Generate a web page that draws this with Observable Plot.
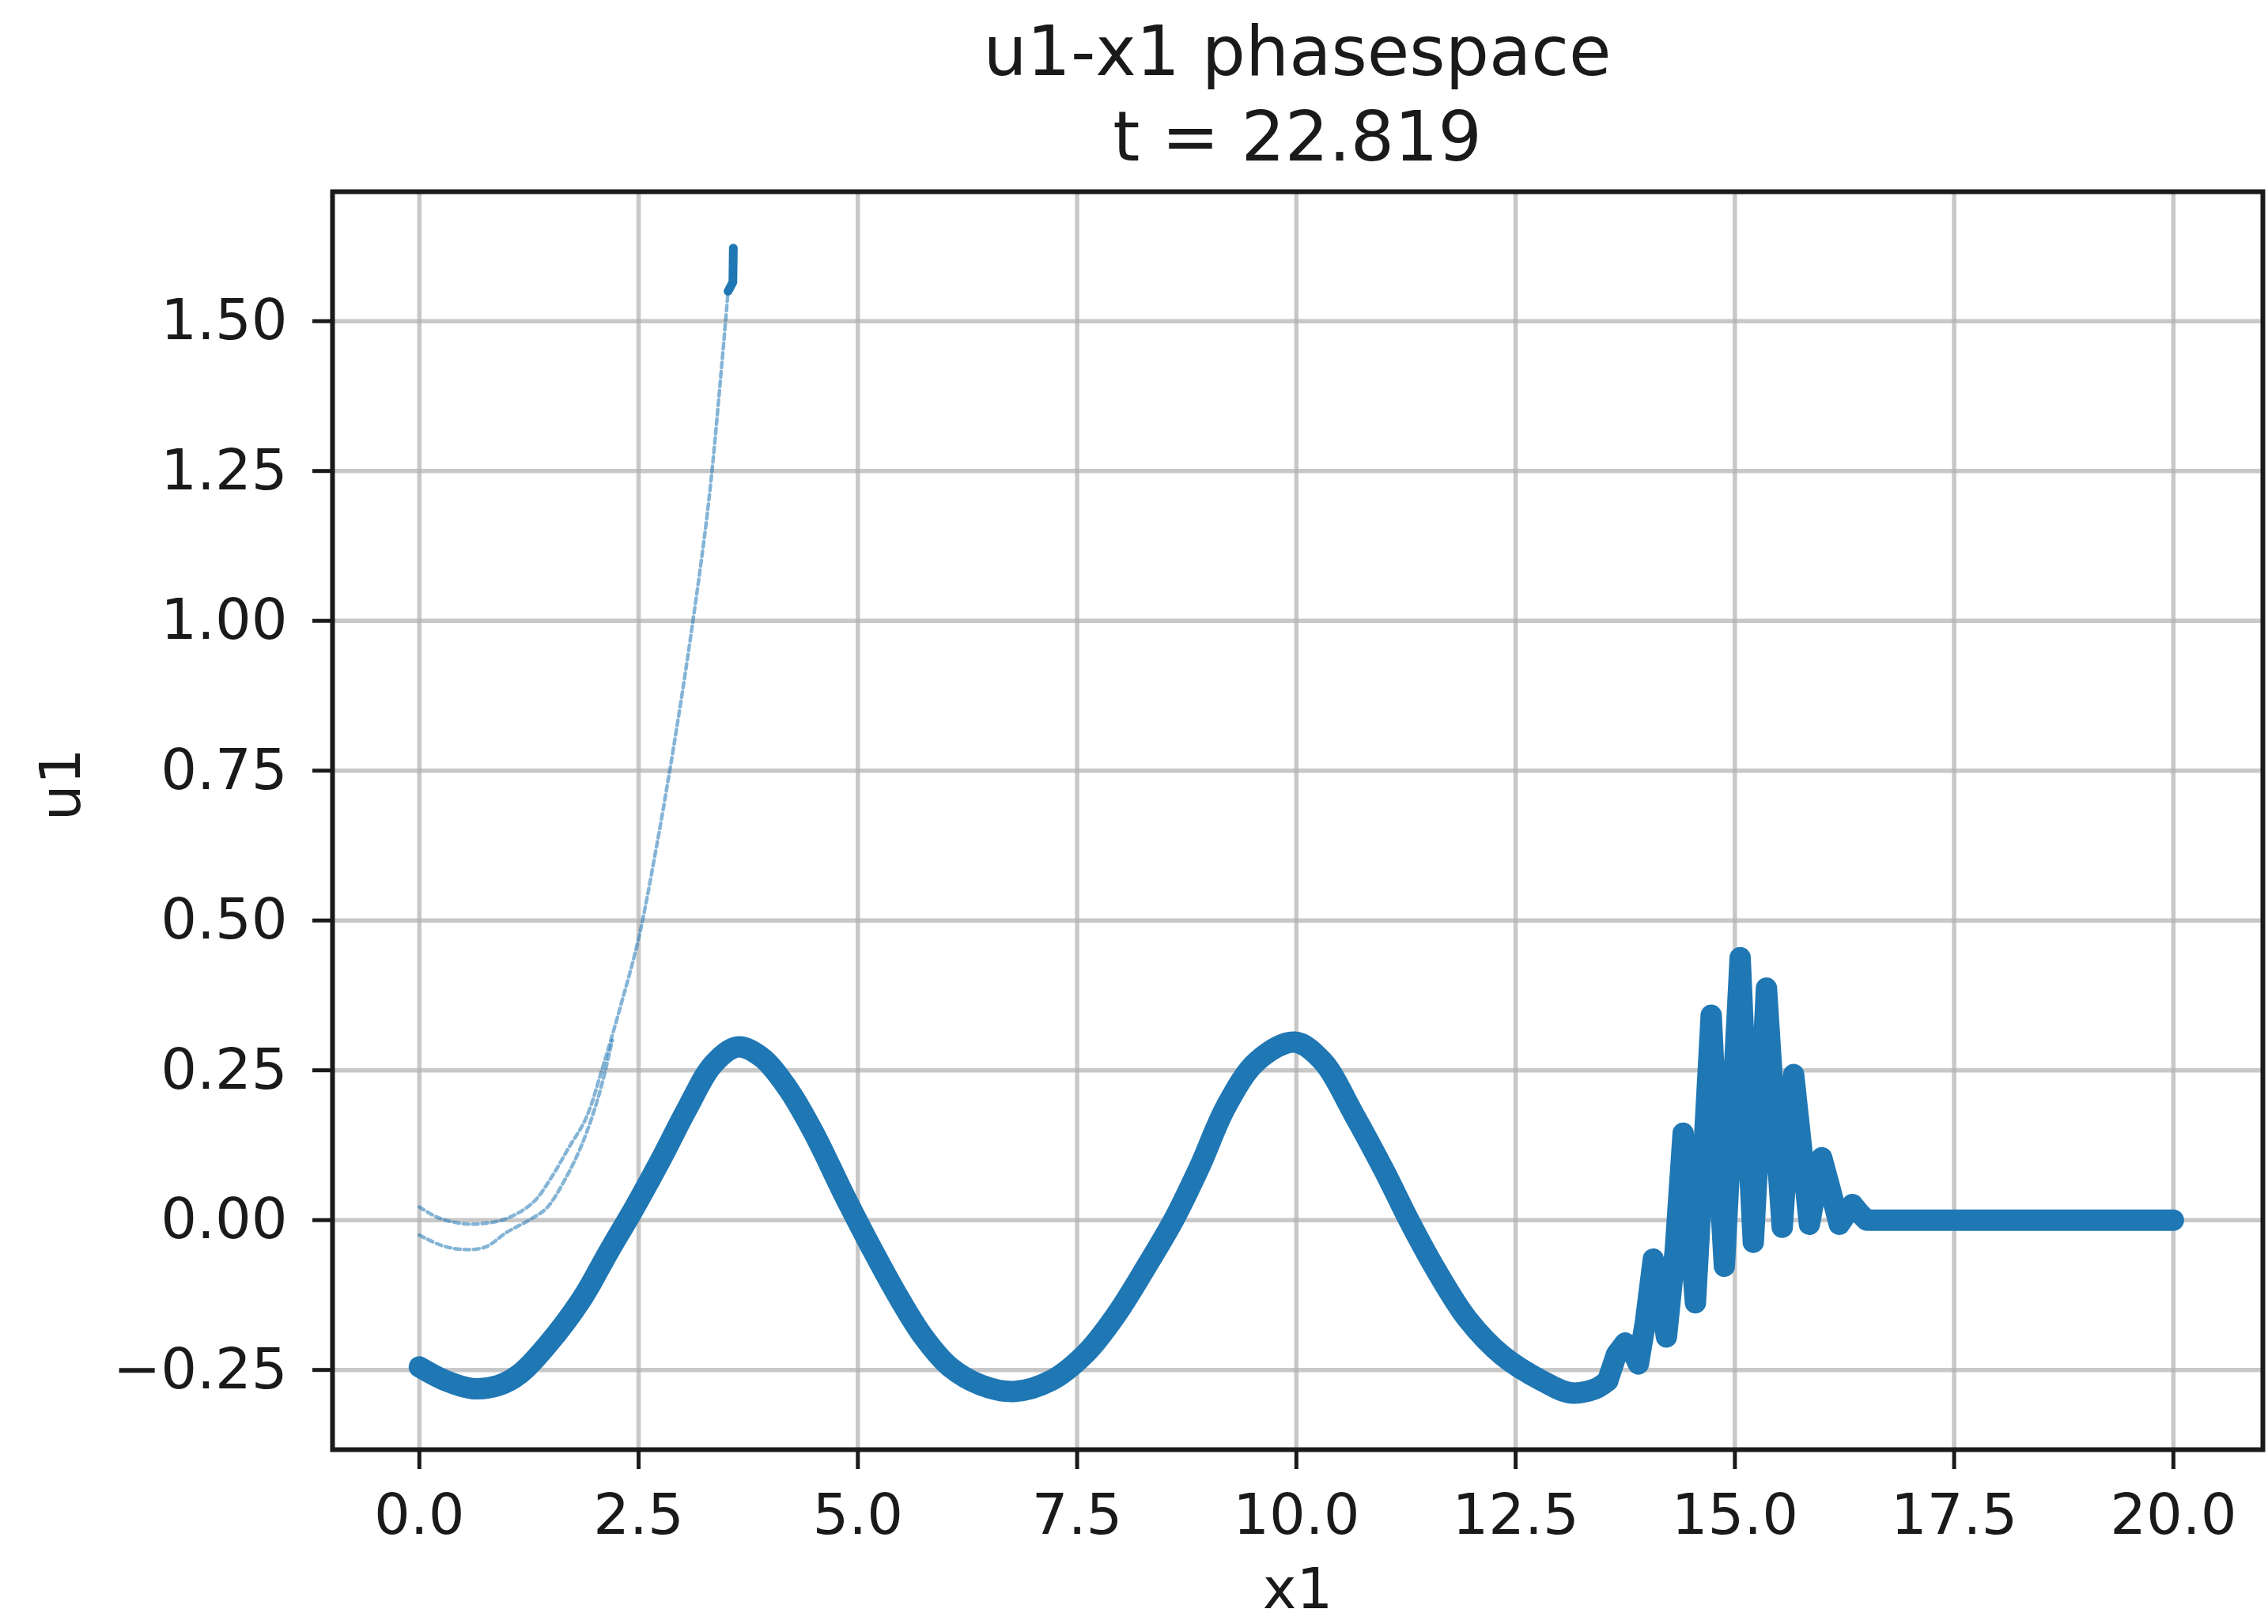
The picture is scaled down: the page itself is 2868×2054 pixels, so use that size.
<!DOCTYPE html>
<html>
<head>
<meta charset="utf-8">
<script src="https://cdn.jsdelivr.net/npm/d3@7"></script>
<script src="https://cdn.jsdelivr.net/npm/@observablehq/plot@0.6"></script>
<style>
  html, body { margin: 0; padding: 0; background: white; }
  #title {
    box-sizing: border-box;
    width: 2868px; height: 200px;
    padding: 11px 7px 0 420px;
    font-family: "DejaVu Sans", sans-serif;
    font-size: 87px; line-height: 108px;
    color: #1a1a1a; text-align: center;
  }
  #chart svg { display: block; }
</style>
</head>
<body>
<div id="title"></div>
<div id="chart"></div>
<script>
// ---- chart text ----
const titleLines = ["u1-x1 phasespace", "t = 22.819"];
const xLabel = "x1";
const yLabel = "u1";

// ---- tick values ----
const xTicks = [0, 2.5, 5, 7.5, 10, 12.5, 15, 17.5, 20];
const yTicks = [-0.25, 0, 0.25, 0.5, 0.75, 1.0, 1.25, 1.5];

// ---- main u1(x1) curve, smooth wave part ----
const waveX = [0.0, 0.3, 0.6, 0.9, 1.15, 1.45, 1.85, 2.15, 2.45, 2.75, 3.05, 3.35, 3.63, 3.9, 4.2, 4.5, 4.85, 5.15, 5.45, 5.75, 6.05, 6.4, 6.78, 7.2, 7.6, 7.95, 8.3, 8.6, 8.9, 9.2, 9.55, 9.98, 10.3, 10.65, 11.0, 11.3, 11.6, 11.95, 12.35, 12.8, 13.12, 13.4, 13.55];
const waveU = [-0.245, -0.268, -0.281, -0.276, -0.256, -0.21, -0.132, -0.055, 0.02, 0.10, 0.185, 0.26, 0.289, 0.272, 0.22, 0.145, 0.04, -0.045, -0.125, -0.195, -0.245, -0.275, -0.286, -0.268, -0.222, -0.157, -0.075, 0.0, 0.09, 0.19, 0.265, 0.297, 0.265, 0.178, 0.083, -0.005, -0.085, -0.165, -0.226, -0.268, -0.288, -0.282, -0.268];
// ---- main curve, oscillating tail ----
const tailX = [13.55, 13.65, 13.75, 13.82, 13.9, 13.98, 14.07, 14.14, 14.22, 14.32, 14.41, 14.48, 14.55, 14.64, 14.73, 14.8, 14.88, 14.97, 15.06, 15.13, 15.21, 15.29, 15.36, 15.45, 15.54, 15.6, 15.67, 15.76, 15.85, 15.92, 15.99, 16.09, 16.19, 16.27, 16.34, 16.42, 16.5, 17.0, 18.0, 19.0, 20.0];
const tailU = [-0.268, -0.224, -0.205, -0.215, -0.24, -0.17, -0.065, -0.12, -0.195, -0.05, 0.145, 0.0, -0.138, 0.1, 0.342, 0.13, -0.077, 0.18, 0.438, 0.2, -0.037, 0.18, 0.387, 0.18, -0.012, 0.12, 0.243, 0.12, -0.007, 0.05, 0.104, 0.05, -0.007, 0.01, 0.026, 0.012, 0.0, 0.0, 0.0, 0.0, 0.0];

// ---- faint upper branch ----
const upperX = [0.0, 0.2, 0.45, 0.7, 1.0, 1.3, 1.5, 1.7, 1.9, 2.1, 2.3, 2.5, 2.7, 2.9, 3.1, 3.3, 3.45, 3.52];
const upperU = [0.022, 0.005, -0.005, -0.006, 0.003, 0.03, 0.07, 0.12, 0.17, 0.26, 0.36, 0.47, 0.62, 0.79, 0.98, 1.20, 1.43, 1.55];
// ---- faint lower branch ----
const lowerX = [0.0, 0.25, 0.5, 0.75, 1.0, 1.25, 1.45, 1.65, 1.85, 2.05, 2.2];
const lowerU = [-0.025, -0.042, -0.049, -0.045, -0.02, 0.0, 0.02, 0.065, 0.125, 0.21, 0.3];
// ---- dark tip of the faint branch ----
const tipX = [3.52, 3.575, 3.58];
const tipU = [1.55, 1.565, 1.622];

const toRows = (xs, us) => xs.map((x, i) => ({x, u: us[i]}));
const waveRows = toRows(waveX, waveU);
const tailRows = toRows(tailX, tailU);
const upperRows = toRows(upperX, upperU);
const lowerRows = toRows(lowerX, lowerU);
const tipRows = toRows(tipX, tipU);

document.getElementById("title").innerHTML = titleLines.map(t => `<div>${t}</div>`).join("");

const blue = "#1f77b4";
const thick = {x: "x", y: "u", stroke: blue, strokeWidth: 27, strokeLinejoin: "round", strokeLinecap: "round"};
const faint = {x: "x", y: "u", stroke: blue, strokeWidth: 4.5, strokeOpacity: 0.55, strokeDasharray: "7,5", curve: "catmull-rom"};
const chart = Plot.plot({
  width: 2868,
  height: 1854,
  marginTop: 42,
  marginRight: 7,
  marginBottom: 221,
  marginLeft: 420,
  style: {fontFamily: "DejaVu Sans, sans-serif", fontSize: "72px", color: "#1a1a1a", background: "white", overflow: "visible"},
  x: {domain: [-0.99, 21.02]},
  y: {domain: [-0.383, 1.716]},
  marks: [
    Plot.gridX(xTicks, {stroke: "#b0b0b0", strokeOpacity: 0.7, strokeWidth: 5.5}),
    Plot.gridY(yTicks, {stroke: "#b0b0b0", strokeOpacity: 0.7, strokeWidth: 5.5}),
    Plot.line(upperRows, faint),
    Plot.line(lowerRows, faint),
    Plot.line(tipRows, {x: "x", y: "u", stroke: blue, strokeWidth: 11, strokeLinecap: "round"}),
    Plot.line(waveRows, {...thick, curve: "catmull-rom"}),
    Plot.line(tailRows, {...thick, curve: "linear"}),
    Plot.frame({stroke: "#1a1a1a", strokeWidth: 6}),
    Plot.axisX(xTicks, {tickSize: 25, tickPadding: 30, strokeWidth: 5, tickFormat: d3.format(".1f"), label: null, fontSize: 72}),
    Plot.axisY(yTicks, {tickSize: 25, tickPadding: 32, strokeWidth: 5, tickFormat: d3.format(".2f"), label: null, fontSize: 72}),
    Plot.text([xLabel], {text: d => d, frameAnchor: "bottom", dy: 200, lineAnchor: "bottom", fontSize: 72, fill: "#1a1a1a"}),
    Plot.text([yLabel], {text: d => d, frameAnchor: "left", dx: -320, rotate: -90, lineAnchor: "bottom", fontSize: 72, fill: "#1a1a1a"})
  ]
});
document.getElementById("chart").appendChild(chart);
</script>
</body>
</html>
